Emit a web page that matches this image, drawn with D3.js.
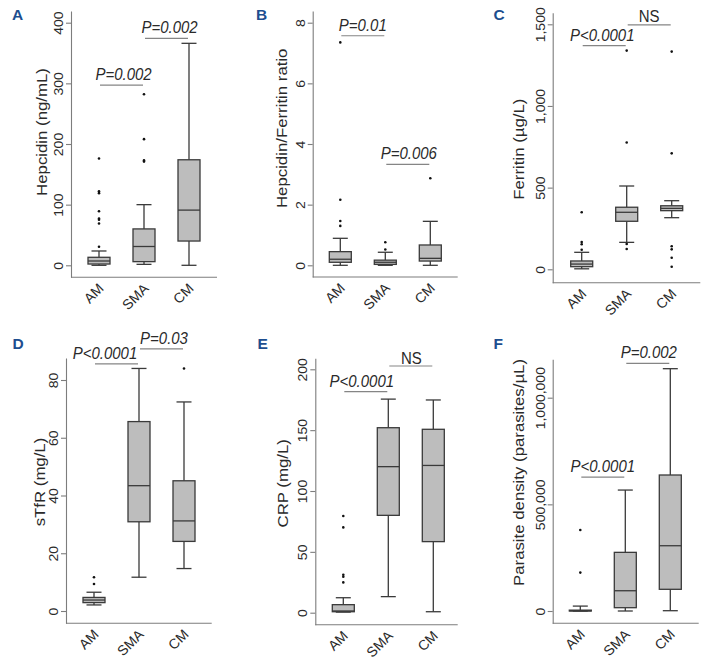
<!DOCTYPE html>
<html><head><meta charset="utf-8">
<script src="https://cdn.jsdelivr.net/npm/d3@7"></script>
<style>
body{margin:0;background:#fff}
svg{display:block}
text{font-family:"Liberation Sans",Arial,Helvetica,sans-serif}
</style>
</head><body>
<svg id="c" width="708" height="661"></svg>
<script>
// ---------- DATA ----------
const categories = ["AM", "SMA", "CM"];
// box statistics per group: [lower whisker, Q1, median, Q3, upper whisker]
const hepcidinBox = [[0, 2.1, 7.1, 13.2, 23.6], [1.6, 6, 31, 60, 100], [0, 40, 91, 174, 366]];
const hepcidinOut = [[30.7, 69, 75, 77, 89, 119, 122, 176], [171, 173, 208, 282], []];
const ratioBox = [[0, 0.099, 0.2, 0.45, 0.89], [0, 0.03, 0.10, 0.17, 0.43], [0, 0.14, 0.23, 0.67, 1.45]];
const ratioOut = [[1.30, 1.46, 2.16, 7.35], [0.52, 0.76], [2.87]];
const ferritinBox = [[3, 16, 32, 51, 104], [165, 294, 349, 380, 510], [316, 359, 373, 389, 420]];
const ferritinOut = [[120, 153, 167, 349], [124, 155, 776, 1339], [16, 71, 122, 141, 710, 1333]];
const stfrBox = [[2.1, 2.9, 3.8, 4.7, 6.5], [11.7, 30.9, 43.4, 65.6, 84], [14.7, 24.1, 31.2, 45.1, 72.4]];
const stfrOut = [[9.35, 11.7], [], [84]];
const crpBox = [[0.5, 0.8, 1.4, 6.6, 12.3], [13.2, 80, 120, 152, 175.5], [0.8, 58.4, 121, 150.7, 174.8]];
const crpOut = [[24.9, 29.6, 31.2, 70.1, 79.5], [], []];
const parasiteBox = [[0, 0, 1000, 4000, 23000], [0, 15500, 95000, 275000, 567000], [1400, 101700, 306000, 637600, 1136000]];
const parasiteOut = [[180000, 380000], [], []];

// tick values
const hepcidinTicks = [0, 100, 200, 300, 400];
const ratioTicks = [0, 2, 4, 6, 8];
const ferritinTicks = [0, 500, 1000, 1500];
const stfrTicks = [0, 20, 40, 60, 80];
const crpTicks = [0, 50, 100, 150, 200];
const parasiteTicks = [0, 500000, 1000000];

// significance annotations: [group A, group B, label, height in data units]
const hepcidinSig = [["AM", "SMA", "P=0.002", 297], ["SMA", "CM", "P=0.002", 374]];
const ratioSig = [["AM", "SMA", "P=0.01", 7.57], ["SMA", "CM", "P=0.006", 3.33]];
const ferritinSig = [["AM", "SMA", "P<0.0001", 1369], ["SMA", "CM", "NS", 1496]];
const stfrSig = [["AM", "SMA", "P<0.0001", 85.6], ["SMA", "CM", "P=0.03", 90.8]];
const crpSig = [["AM", "SMA", "P<0.0001", 181.6], ["SMA", "CM", "NS", 202.7]];
const parasiteSig = [["AM", "SMA", "P<0.0001", 628000], ["SMA", "CM", "P=0.002", 1161000]];

// ---------- LAYOUT ----------
const panels = [
  {letter: "A", title: "Hepcidin (ng/mL)", box: hepcidinBox, out: hepcidinOut, ticks: hepcidinTicks, sig: hepcidinSig,
   L: {axisX: 71, right: 217, xAxisY: 277.3, top: 11, y0: 265.3, refV: 400, refY: 22.7, c0: 28,
       lx: 12, ly: 20, tx: 46.7, ty: 132, sigDx: [2, 3]}},
  {letter: "B", title: "Hepcidin/Ferritin ratio", box: ratioBox, out: ratioOut, ticks: ratioTicks, sig: ratioSig,
   L: {axisX: 312.7, right: 457.7, xAxisY: 277, top: 11, y0: 265.3, refV: 8, refY: 22.7, c0: 27.6,
       lx: 256, ly: 20, tx: 286.7, ty: 128.3, sigDx: [0, 1]}},
  {letter: "C", title: "Ferritin (\u00b5g/L)", box: ferritinBox, out: ferritinOut, ticks: ferritinTicks, sig: ferritinSig,
   L: {axisX: 552.7, right: 700.3, xAxisY: 282.7, top: 12.7, y0: 269.3, refV: 1500, refY: 24.3, c0: 29,
       lx: 493.5, ly: 20, tx: 524.3, ty: 149.2, sigDx: [-2, 0]}},
  {letter: "D", title: "sTfR (mg/L)", box: stfrBox, out: stfrOut, ticks: stfrTicks, sig: stfrSig,
   L: {axisX: 66, right: 211.7, xAxisY: 623.3, top: 358, y0: 611, refV: 80, refY: 380, c0: 28,
       lx: 12.5, ly: 348.5, tx: 44.5, ty: 482, sigDx: [-11.5, 2.5]}},
  {letter: "E", title: "CRP (mg/L)", box: crpBox, out: crpOut, ticks: crpTicks, sig: crpSig,
   L: {axisX: 315.3, right: 457.7, xAxisY: 624.7, top: 358.3, y0: 612.7, refV: 200, refY: 369.3, c0: 28,
       lx: 257.5, ly: 349, tx: 288.3, ty: 483.3, sigDx: [-4, 0.5]}},
  {letter: "F", title: "Parasite density (parasites/\u00b5L)", box: parasiteBox, out: parasiteOut, ticks: parasiteTicks, sig: parasiteSig,
   L: {axisX: 552.7, right: 698.7, xAxisY: 623.3, top: 359.3, y0: 611, refV: 1000000, refY: 397.7, c0: 27.6,
       lx: 493.5, ly: 349, tx: 524.3, ty: 472.5, sigDx: [0, 1]}}
];

const axisColor = "#7d7d7d";
const textColor = "#2a2a2a";
const boxFill = "#bdbdbd";
const boxStroke = "#3a3a3a";
const boxW = 22, capW = 15;
const stretch = 1.12;   // the original figure is slightly stretched vertically
const fmt = d3.format(",");

const svg = d3.select("#c");

panels.forEach(p => {
  const L = p.L;
  const ref = d3.scaleLinear().domain([0, L.refV]).range([L.y0, L.refY]);
  const y = d3.scaleLinear().domain([ref.invert(L.xAxisY), ref.invert(L.top)]).range([L.xAxisY, L.top]);
  const x = d3.scalePoint().domain(categories).range([L.axisX + L.c0, L.axisX + L.c0 + 90]);
  const g = svg.append("g");

  // panel letter
  g.append("text").attr("x", L.lx).attr("y", L.ly).text(p.letter)
    .attr("font-size", 15.5).attr("font-weight", "bold").attr("fill", "#1d4e8f");

  // y axis
  const ya = g.append("g").attr("transform", `translate(${L.axisX},0)`)
    .call(d3.axisLeft(y).tickValues(p.ticks).tickSize(5).tickSizeOuter(0).tickFormat(fmt));
  ya.attr("font-family", null).attr("font-size", null);
  ya.select(".domain").attr("stroke", axisColor).attr("stroke-width", 1.1);
  ya.selectAll(".tick line").attr("stroke", axisColor).attr("stroke-width", 1.1);
  ya.selectAll(".tick text").remove();
  ya.selectAll(".tick").append("text")
    .attr("transform", `translate(-8,0) rotate(-90) scale(${stretch},1)`)
    .attr("text-anchor", "middle").attr("font-size", 12.5).attr("fill", textColor)
    .text(d => fmt(d));

  // x axis
  const xa = g.append("g").attr("transform", `translate(0,${L.xAxisY})`)
    .call(d3.axisBottom(x).tickSize(0).tickSizeOuter(0));
  xa.attr("font-family", null).attr("font-size", null);
  xa.select(".domain").attr("d", `M${L.axisX},0H${L.right}`).attr("stroke", axisColor).attr("stroke-width", 1.1);
  xa.selectAll(".tick text").remove();
  xa.selectAll(".tick").append("text")
    .attr("transform", "translate(5,12) rotate(-45)")
    .attr("text-anchor", "end").attr("font-size", 14).attr("fill", textColor)
    .text(d => d);

  // y title
  g.append("text").attr("transform", `translate(${L.tx},${L.ty}) rotate(-90) scale(${stretch},1)`)
    .attr("text-anchor", "middle").attr("font-size", 15).attr("fill", textColor).text(p.title);

  // boxes
  categories.forEach((c, i) => {
    const [lo, q1, med, q3, hi] = p.box[i];
    const cx = x(c);
    const bg = g.append("g").attr("stroke", boxStroke).attr("stroke-width", 1.3);
    bg.append("line").attr("x1", cx).attr("x2", cx).attr("y1", y(lo)).attr("y2", y(q1));
    bg.append("line").attr("x1", cx).attr("x2", cx).attr("y1", y(q3)).attr("y2", y(hi));
    bg.append("line").attr("x1", cx - capW / 2).attr("x2", cx + capW / 2).attr("y1", y(lo)).attr("y2", y(lo));
    bg.append("line").attr("x1", cx - capW / 2).attr("x2", cx + capW / 2).attr("y1", y(hi)).attr("y2", y(hi));
    bg.append("rect").attr("x", cx - boxW / 2).attr("width", boxW)
      .attr("y", y(q3)).attr("height", Math.max(0.5, y(q1) - y(q3))).attr("fill", boxFill);
    bg.append("line").attr("x1", cx - boxW / 2).attr("x2", cx + boxW / 2).attr("y1", y(med)).attr("y2", y(med));
    g.selectAll(null).data(p.out[i]).join("circle")
      .attr("cx", cx).attr("cy", d => y(d)).attr("r", 1.3).attr("fill", "#111");
  });

  // significance brackets
  p.sig.forEach(([a, b, label, h], k) => {
    const x1 = x(a) + 1, x2 = x(b) - 1, yy = y(h);
    g.append("line").attr("x1", x1).attr("x2", x2).attr("y1", yy).attr("y2", yy)
      .attr("stroke", "#858585").attr("stroke-width", 1.2);
    const ns = label === "NS";
    g.append("text")
      .attr("transform", `translate(${(x1 + x2) / 2 + L.sigDx[k]},${yy - (ns ? 2.5 : 5)}) scale(1,${stretch})`)
      .attr("text-anchor", "middle").attr("font-size", 15).attr("fill", textColor)
      .attr("font-style", ns ? "normal" : "italic").text(label);
  });
});
</script>
</body></html>
